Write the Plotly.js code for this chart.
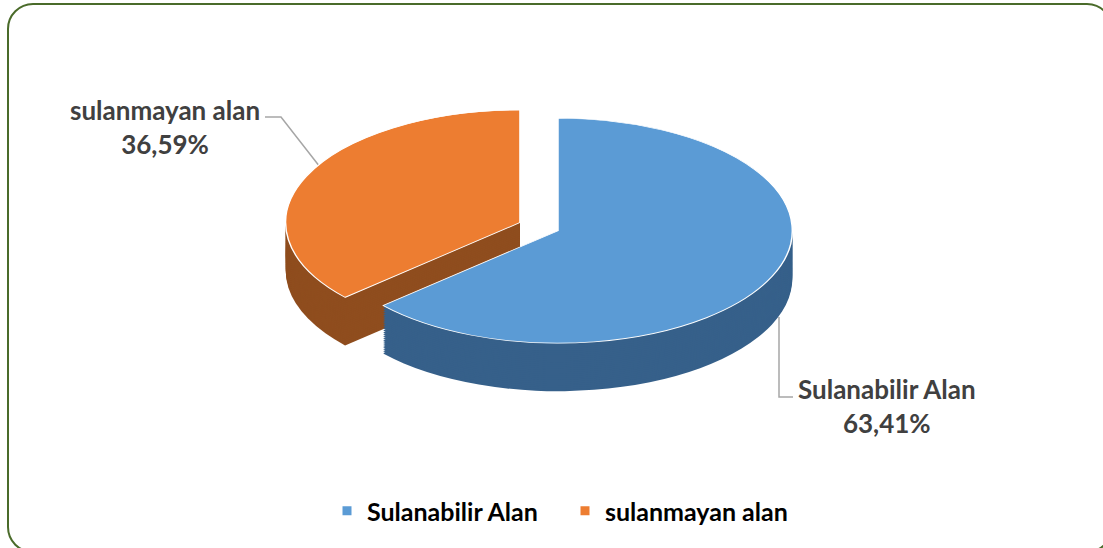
<!DOCTYPE html>
<html><head><meta charset="utf-8">
<script src="https://cdn.plot.ly/plotly-3.0.1.min.js"></script>
<style>
html,body{margin:0;padding:0;width:1103px;height:548px;overflow:hidden;background:#fff;}
#chart{position:absolute;left:0;top:0;width:1103px;height:548px;}
#pie{position:absolute;left:282px;top:98px;width:552px;height:653px;transform:scaleY(0.48);transform-origin:0 0;}
#frame{position:absolute;left:7px;top:3px;width:1106px;height:550px;border:2px solid #4a6b2a;border-radius:26px;box-sizing:border-box;pointer-events:none;}
</style></head>
<body>
<div id="chart"></div><div id="pie"></div><div id="frame"></div>
<script>
// ---- data ----
const categories = ['Sulanabilir Alan', 'sulanmayan alan'];
const shares = [63.41, 36.59];
// ---- style ----
const topColors = ['#5b9bd5', '#ed7d31'];
const sideColors = ['#36608a', '#8f4d1e'];
const pulls = [0, 0.178];

const fmt = v => v.toFixed(2).replace('.', ',') + '%';

// ---- 3D-looking pie (stack of identical pies, squashed with CSS) ----
const PIE_W = 552, BOX_H = 553, THICK = 100, PIE_H = BOX_H + THICK;
const pieTraces = [];
for (let k = 0; k <= THICK; k += 4) {
  const isTop = (k === THICK);
  pieTraces.push({
    type: 'pie',
    labels: categories,
    values: shares,
    sort: false,
    direction: 'clockwise',
    rotation: 0,
    pull: pulls,
    textinfo: 'none',
    hoverinfo: 'skip',
    showlegend: false,
    domain: {x: [0, 1], y: [k / PIE_H, (k + BOX_H) / PIE_H]},
    marker: {
      colors: isTop ? topColors : sideColors,
      line: {color: isTop ? '#ffffff' : 'rgba(0,0,0,0)', width: isTop ? 1.5 : 0}
    }
  });
}
Plotly.newPlot('pie', pieTraces, {
  width: PIE_W, height: PIE_H,
  margin: {l: 0, r: 0, t: 0, b: 0},
  paper_bgcolor: 'rgba(0,0,0,0)',
  showlegend: false
}, {displayModeBar: false, staticPlot: true});

// ---- labels, leader lines and legend ----
const legendTraces = categories.map((c, i) => ({
  type: 'scatter', mode: 'markers', x: [null], y: [null], name: c,
  marker: {symbol: 'square', size: 9, color: topColors[i]},
  hoverinfo: 'skip'
}));
const labelFont = {family: 'Lato, "Open Sans", sans-serif', size: 26, color: '#404040', weight: 'bold'};
Plotly.newPlot('chart', legendTraces, {
  width: 1103, height: 548,
  margin: {l: 0, r: 0, t: 0, b: 0},
  paper_bgcolor: '#ffffff', plot_bgcolor: 'rgba(0,0,0,0)',
  xaxis: {range: [0, 1103], visible: false, fixedrange: true},
  yaxis: {range: [548, 0], visible: false, fixedrange: true},
  showlegend: true,
  legend: {
    orientation: 'h', x: 0.5 + 13.5 / 1103, xanchor: 'center', y: 1 - 511 / 548, yanchor: 'middle',
    font: {family: 'Lato, "Open Sans", sans-serif', size: 25, color: '#000000', weight: 'bold'},
    entrywidth: 193
  },
  annotations: [
    {x: 165, y: 127, xref: 'x', yref: 'y', showarrow: false, xanchor: 'center', yanchor: 'middle', align: 'center',
     text: categories[1] + '<br>' + fmt(shares[1]), font: labelFont},
    {x: 887, y: 406, xref: 'x', yref: 'y', showarrow: false, xanchor: 'center', yanchor: 'middle', align: 'center',
     text: categories[0] + '<br>' + fmt(shares[0]), font: labelFont}
  ],
  shapes: [
    {type: 'path', xref: 'x', yref: 'y', path: 'M265,117 L281,117 L320,167', line: {color: '#a6a6a6', width: 1.5}},
    {type: 'path', xref: 'x', yref: 'y', path: 'M779,317 L779,397 L793,397', line: {color: '#a6a6a6', width: 1.5}}
  ]
}, {displayModeBar: false, staticPlot: true});
</script>
</body></html>
